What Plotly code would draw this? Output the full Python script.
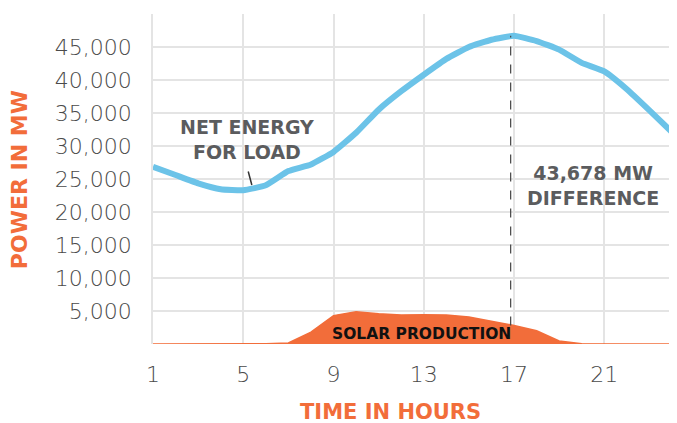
import plotly.graph_objects as go

hours = list(range(1, 25))
net_load = [26850, 25600, 24350, 23450, 23300, 24050, 26200, 27200, 29100, 32000,
            35500, 38300, 40800, 43200, 45000, 46100, 46700, 45900, 44600, 42600,
            41300, 38600, 35400, 32100]
solar = [0, 0, 0, 0, 20, 50, 150, 1800, 4300, 4900, 4600, 4400, 4450, 4400,
         4100, 3450, 2800, 2000, 450, 50, 0, 0, 0, 0]
x_ticks = [1, 5, 9, 13, 17, 21]
y_ticks = [5000, 10000, 15000, 20000, 25000, 30000, 35000, 40000, 45000]
y_tick_text = ["5,000", "10,000", "15,000", "20,000", "25,000", "30,000", "35,000", "40,000", "45,000"]
peak_hour = 17

ORANGE = "#F26D3A"
BLUE = "#6CC3E8"
GRAY = "#5B5C5E"
FONT = "DejaVu Sans"

fig = go.Figure()
fig.add_trace(go.Scatter(x=hours, y=solar, mode="lines", fill="tozeroy",
                         fillcolor=ORANGE, line=dict(color=ORANGE, width=1.5),
                         hoverinfo="skip", showlegend=False))
fig.add_trace(go.Scatter(x=hours, y=net_load, mode="lines",
                         line=dict(color=BLUE, width=6, shape="spline", smoothing=0.4),
                         hoverinfo="skip", showlegend=False))

pi = hours.index(peak_hour)
fig.add_shape(type="line", xref="x", yref="y", x0=peak_hour - 0.15, x1=peak_hour - 0.15,
              y0=solar[pi], y1=net_load[pi],
              line=dict(color="#444444", width=1.2, dash="dash"))

fig.add_annotation(x=5.17, y=30950, xref="x", yref="y", text="NET ENERGY<br>FOR LOAD",
                   showarrow=False, font=dict(family=FONT, size=19, color=GRAY, weight="bold"))
fig.add_annotation(x=5.38, y=24100, xref="x", yref="y", text="", showarrow=True,
                   arrowhead=0, arrowwidth=1.5, arrowcolor="#333333", ax=-4, ay=-15)
fig.add_annotation(x=20.48, y=24000, xref="x", yref="y", text="43,678 MW<br>DIFFERENCE",
                   showarrow=False, font=dict(family=FONT, size=19, color=GRAY, weight="bold"))
fig.add_annotation(x=12.92, y=1585, xref="x", yref="y", text="SOLAR PRODUCTION",
                   showarrow=False, font=dict(family=FONT, size=15.5, color="#111111", weight="bold"))
fig.add_annotation(x=-0.256, y=0.497, xref="paper", yref="paper", text="POWER IN MW",
                   textangle=-90, showarrow=False, xanchor="center", yanchor="middle",
                   font=dict(family=FONT, size=22, color=ORANGE, weight="bold"))
fig.add_annotation(x=0.457, y=-0.207, xref="paper", yref="paper", text="TIME IN HOURS",
                   showarrow=False, xanchor="center", yanchor="middle",
                   font=dict(family=FONT, size=21, color=ORANGE, weight="bold"))

fig.update_xaxes(range=[1, 24], tickvals=x_ticks, showgrid=True, gridcolor="#E4E4E4",
                 gridwidth=1.5, zeroline=False, showline=False, ticks="",
                 tickfont=dict(family=FONT, size=22, color="#4A4A4A", weight=200),
                 ticklabelstandoff=15)
fig.update_yaxes(range=[0, 50000], tickvals=y_ticks, ticktext=y_tick_text, showgrid=True,
                 gridcolor="#E4E4E4", gridwidth=1.5, zeroline=False, showline=True,
                 linecolor="#E4E4E4", linewidth=1.5, ticks="",
                 tickfont=dict(family=FONT, size=22, color="#4A4A4A", weight=200),
                 ticklabelstandoff=15)
fig.update_layout(width=669, height=415, margin=dict(l=145, r=5, t=6, b=78.5),
                  plot_bgcolor="white", paper_bgcolor="white", showlegend=False)

fig.write_html("out.html")
